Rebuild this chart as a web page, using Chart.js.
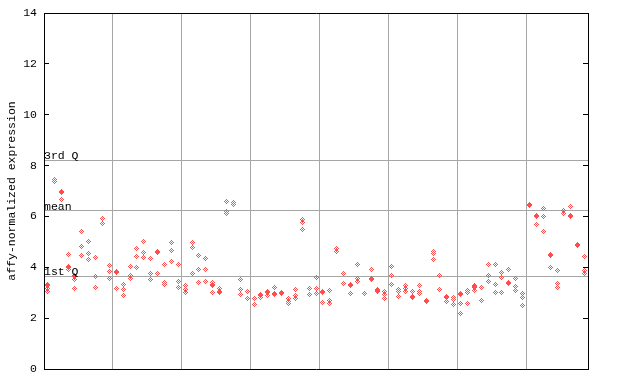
<!DOCTYPE html>
<html><head><meta charset="utf-8">
<script src="https://cdn.jsdelivr.net/npm/chart.js@4.4.1/dist/chart.umd.min.js"></script>
<style>html,body{margin:0;padding:0;background:#fff}</style>
</head><body>
<canvas id="c" width="640" height="384"></canvas>
<script>
// samples are grouped; number of samples per group
const groupSizes = [10, 10, 10, 10, 10, 10, 10, 9];
// replicate expression values per sample (single markers)
const replicateVals = [
  [3.18, 3.05], [7.45, 7.37], [6.66], [4.52, 3.9], [3.51, 3.18],
  [5.39, 4.8, 4.45], [5.0, 4.56, 4.29], [4.4, 3.62, 3.22], [5.9, 5.72], [4.06, 3.85, 3.54],
  [3.18], [3.34, 3.12, 2.88], [4.05, 3.67, 3.56], [4.72, 4.44, 4.01], [5.0, 4.6, 4.39],
  [4.33, 3.75, 3.51], [3.77], [4.09, 3.42, 3.34], [4.96, 4.67, 4.22], [4.09, 3.43, 3.22],
  [3.3, 3.12, 3.01], [4.96, 4.76, 3.77], [4.48, 3.93, 3.42], [4.36, 3.93, 3.46], [3.42, 3.02],
  [3.18], [6.57, 6.18, 6.1], [6.53, 6.45], [3.51, 3.14, 2.94], [3.06, 2.79],
  [2.79, 2.55], [2.8], [2.9], [3.22], [],
  [2.79, 2.67, 2.57], [3.14, 2.91, 2.79], [5.86, 5.76, 5.47], [3.18, 2.94], [3.61, 3.18, 2.98],
  [2.63], [3.08, 2.71, 2.59], [4.72, 4.63], [3.77, 3.38], [2.98],
  [4.12, 3.54, 3.46], [2.98], [3.93], [3.13], [3.06, 2.92, 2.78],
  [4.05, 3.66, 3.34], [3.14, 3.06, 2.87], [3.3, 3.18, 3.06], [3.06], [3.3, 3.06, 2.98],
  [], [4.64, 4.56, 4.29], [3.66, 3.14], [2.67], [2.83, 2.72, 2.54],
  [2.59, 2.2], [3.1, 3.02, 2.59], [3.3, 3.1], [3.22, 2.71], [4.09, 3.66, 3.46],
  [4.09, 3.34, 3.02], [3.81, 3.61, 3.02], [3.93], [3.54, 3.26, 3.1], [2.98, 2.83, 2.51],
  [], [5.67], [6.3, 5.98, 5.39], [4.01], [3.89, 3.38, 3.22],
  [6.22, 6.1], [6.38], [], [4.44, 3.89, 3.77]
];
// overlapping replicate pairs per sample (drawn as solid markers)
const overlapVals = [
  [3.3], [], [6.95], [4.03], [3.64], [], [], [], [], [],
  [3.8], [], [], [], [], [], [4.61], [], [], [],
  [], [], [], [], [3.3], [3.01], [], [], [], [],
  [], [2.9], [3.01], [2.93], [2.98], [], [], [], [], [],
  [3.01], [], [], [], [3.29], [], [], [3.55], [3.06], [],
  [], [], [], [2.85], [], [2.67], [], [], [2.85], [],
  [2.93], [], [3.22], [], [], [], [], [3.4], [], [],
  [6.44], [6.01], [], [4.47], [], [], [6.01], [4.86], []
];
const refLabels = ['3rd Q', 'mean', '1st Q'];
const refValues = [8.21, 6.23, 3.64];
const yTitle = 'affy-normalized expression';

const RED = 'rgb(255,77,77)';
const GRID = '#a6a6a6';
const FONT = {family: '"Liberation Mono", "DejaVu Sans Mono", monospace', size: 11.5};

function makeDiamond(solid) {
  const c = document.createElement('canvas');
  c.width = 5; c.height = solid ? 6 : 5;
  const g = c.getContext('2d');
  g.fillStyle = RED;
  const on = (x, y) => Math.abs(x - 2) + Math.abs(y - 2) <= 2 && (x + y) % 2 === 0;
  for (let y = 0; y < c.height; y++) {
    for (let x = 0; x < 5; x++) {
      const p = solid ? (on(x, y) || on(x, y - 1)) : on(x, y);
      if (p) g.fillRect(x, y, 1, 1);
    }
  }
  return c;
}

const nSamples = replicateVals.length;
const groupBounds = [];
let acc = 0;
groupSizes.slice(0, -1).forEach(s => { acc += s; groupBounds.push(acc - 0.5); });

const hollowPts = [];
replicateVals.forEach((arr, i) => arr.forEach(v => hollowPts.push({x: i, y: v})));
const solidPts = [];
overlapVals.forEach((arr, i) => arr.forEach(v => solidPts.push({x: i, y: v})));

const crisp = {id: 'crisp', beforeDatasetsDraw(chart) { chart.ctx.imageSmoothingEnabled = false; }};
const refText = {
  id: 'refText',
  afterDatasetsDraw(chart) {
    const ctx = chart.ctx, ys = chart.scales.yq, a = chart.chartArea;
    ctx.save();
    ctx.font = FONT.size + 'px ' + FONT.family;
    ctx.fillStyle = '#000';
    ctx.textAlign = 'left';
    ctx.textBaseline = 'alphabetic';
    refLabels.forEach((t, i) => {
      ctx.fillText(t, a.left, Math.round(ys.getPixelForValue(refValues[i])) - 1);
    });
    ctx.restore();
  }
};
const noPad = s => { s.paddingTop = 0; s.paddingBottom = 0; s.paddingLeft = 0; s.paddingRight = 0; };

new Chart(document.getElementById('c'), {
  type: 'scatter',
  data: {
    datasets: [
      {data: solidPts, pointStyle: makeDiamond(true), pointRadius: 3, order: 1},
      {data: hollowPts, pointStyle: makeDiamond(false), pointRadius: 3, order: 2}
    ]
  },
  options: {
    responsive: false,
    animation: false,
    devicePixelRatio: 1,
    layout: {padding: {left: 0, top: 13, right: 52, bottom: 15}},
    plugins: {legend: {display: false}, tooltip: {enabled: false}},
    scales: {
      x: {
        type: 'linear', position: 'bottom', min: -0.5, max: nSamples - 0.5,
        afterBuildTicks: s => { s.ticks = groupBounds.map(v => ({value: v})); },
        ticks: {display: false},
        grid: {color: GRID, lineWidth: 1, drawTicks: false},
        border: {color: '#000', width: 1},
        afterFit: s => { s.height = 0; noPad(s); }
      },
      x2: {
        type: 'linear', position: 'top', min: -0.5, max: nSamples - 0.5,
        ticks: {display: false},
        grid: {display: false, drawTicks: false},
        border: {color: '#000', width: 1},
        afterFit: s => { s.height = 0; noPad(s); }
      },
      y: {
        position: 'left', min: 0, max: 14,
        ticks: {stepSize: 2, font: FONT, color: '#000', padding: 12},
        grid: {drawOnChartArea: false, tickLength: -5, tickColor: '#000'},
        border: {color: '#000', width: 1},
        title: {display: true, text: yTitle, font: FONT, color: '#000', padding: {top: 5, bottom: 0}},
        afterFit: s => { s.width = 44; noPad(s); }
      },
      yq: {
        position: 'left', min: 0, max: 14,
        afterBuildTicks: s => { s.ticks = refValues.map(v => ({value: v})); },
        ticks: {display: false},
        grid: {color: GRID, lineWidth: 1, drawTicks: false},
        border: {display: false},
        afterFit: s => { s.width = 0; noPad(s); }
      },
      y2: {
        position: 'right', min: 0, max: 14,
        ticks: {stepSize: 2, display: false},
        grid: {drawOnChartArea: false, tickLength: -5, tickColor: '#000'},
        border: {color: '#000', width: 1},
        afterFit: s => { s.width = 0; noPad(s); }
      }
    }
  },
  plugins: [crisp, refText]
});
</script>
</body></html>
